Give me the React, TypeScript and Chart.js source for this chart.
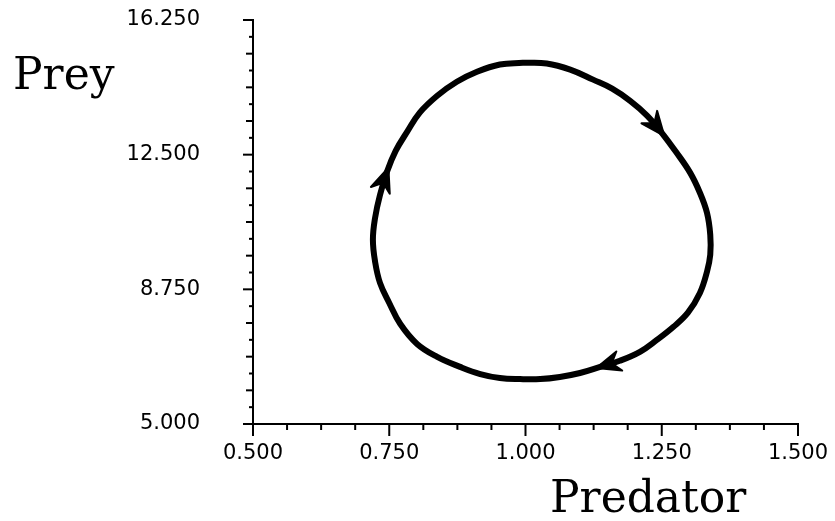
import React, { useEffect, useRef } from "react";
import { Chart, registerables } from "chart.js";

Chart.register(...registerables);

// ---- data, traced clockwise from the top ----
const predator = [
  0.995, 1.039, 1.082, 1.124, 1.159, 1.192, 1.223, 1.25, 1.276, 1.302, 1.32, 1.333, 1.339, 1.339, 1.333,
  1.32, 1.298, 1.271, 1.241, 1.21, 1.173, 1.137, 1.1, 1.063, 1.027, 0.99, 0.953, 0.917, 0.88, 0.838,
  0.801, 0.77, 0.75, 0.733, 0.724, 0.72, 0.724, 0.733, 0.746, 0.762, 0.783, 0.806, 0.838, 0.874, 0.911,
  0.953,
];
const prey = [
  15.06, 15.04, 14.87, 14.59, 14.34, 14.0, 13.59, 13.11, 12.58, 12.0, 11.44, 10.88, 10.27, 9.71, 9.24,
  8.65, 8.1, 7.7, 7.34, 7.01, 6.76, 6.59, 6.42, 6.31, 6.25, 6.25, 6.28, 6.39, 6.59, 6.87,
  7.23, 7.79, 8.37, 8.93, 9.52, 10.13, 10.74, 11.38, 12.03, 12.61, 13.14, 13.67, 14.14, 14.53, 14.81,
  15.01,
];
const arrowIdx = [7, 38, 21]; // points where arrowheads show direction of travel
const xTicks = [0.5, 0.75, 1.0, 1.25, 1.5];
const yTicks = [5, 8.75, 12.5, 16.25];
const xMinorStep = 0.0625;
const yMinorStep = 0.46875;
const xTitle = "Predator";
const yTitle = "Prey";

const TICK_FONT = { family: "'DejaVu Sans', sans-serif", size: 21 };
const TITLE_FONT = "44px 'DejaVu Serif', serif";

const decor = {
  id: "decor",
  afterDatasetsDraw(chart: any) {
    const { ctx, scales } = chart;
    const xs = scales.x;
    const ys = scales.y;
    const n = predator.length;
    ctx.save();
    ctx.fillStyle = "#000";
    ctx.strokeStyle = "#000";
    ctx.lineWidth = 2;
    ctx.lineJoin = "round";
    for (const i of arrowIdx) {
      const a = (i - 1 + n) % n;
      const b = (i + 1) % n;
      const px = xs.getPixelForValue(predator[i]);
      const py = ys.getPixelForValue(prey[i]);
      let dx = xs.getPixelForValue(predator[b]) - xs.getPixelForValue(predator[a]);
      let dy = ys.getPixelForValue(prey[b]) - ys.getPixelForValue(prey[a]);
      const len = Math.hypot(dx, dy) || 1;
      dx /= len;
      dy /= len;
      const nx = -dy;
      const ny = dx;
      const tx = px + dx * 4;
      const ty = py + dy * 4;
      ctx.beginPath();
      ctx.moveTo(tx, ty);
      ctx.lineTo(tx - dx * 24 + nx * 10, ty - dy * 24 + ny * 10);
      ctx.lineTo(tx - dx * 16, ty - dy * 16);
      ctx.lineTo(tx - dx * 24 - nx * 10, ty - dy * 24 - ny * 10);
      ctx.closePath();
      ctx.fill();
      ctx.stroke();
    }
    ctx.restore();
  },
  afterDraw(chart: any) {
    const { ctx, scales, chartArea } = chart;
    const xs = scales.x;
    const ys = scales.y;
    ctx.save();
    ctx.strokeStyle = "#000";
    ctx.lineWidth = 2;
    // x tick marks
    const xCount = Math.round((xs.max - xs.min) / xMinorStep);
    for (let k = 0; k <= xCount; k++) {
      const v = xs.min + k * xMinorStep;
      const p = xs.getPixelForValue(v);
      const len = k % 4 === 0 ? 12 : 6;
      ctx.beginPath();
      ctx.moveTo(p, chartArea.bottom);
      ctx.lineTo(p, chartArea.bottom + len);
      ctx.stroke();
    }
    // y tick marks
    const yCount = Math.round((ys.max - ys.min) / yMinorStep);
    for (let k = 0; k <= yCount; k++) {
      const v = ys.min + k * yMinorStep;
      const p = ys.getPixelForValue(v);
      const len = k % 8 === 0 ? 10 : k % 2 === 0 ? 7 : 4;
      ctx.beginPath();
      ctx.moveTo(chartArea.left, p);
      ctx.lineTo(chartArea.left - len, p);
      ctx.stroke();
    }
    // axis titles
    ctx.fillStyle = "#000";
    ctx.font = TITLE_FONT;
    ctx.textAlign = "left";
    ctx.textBaseline = "alphabetic";
    ctx.fillText(yTitle, 13, 89);
    ctx.fillText(xTitle, 550, 512);
    ctx.restore();
  },
};

export default function App() {
  const ref = useRef<HTMLCanvasElement | null>(null);
  useEffect(() => {
    if (!ref.current) return;
    const pts = predator.map((x, i) => ({ x, y: prey[i] }));
    pts.push({ x: predator[0], y: prey[0] });
    const chart = new Chart(ref.current, {
      type: "scatter",
      data: {
        datasets: [
          {
            data: pts,
            showLine: true,
            borderColor: "#000",
            backgroundColor: "#000",
            borderWidth: 6,
            pointRadius: 0,
            tension: 0.4,
            fill: false,
            borderCapStyle: "round",
            borderJoinStyle: "round",
          } as any,
        ],
      },
      options: {
        animation: false,
        responsive: true,
        maintainAspectRatio: false,
        layout: { padding: { left: 10, top: 20, right: 37, bottom: 57 } },
        plugins: { legend: { display: false }, tooltip: { enabled: false }, title: { display: false } },
        scales: {
          x: {
            type: "linear",
            position: "bottom",
            min: 0.5,
            max: 1.5,
            afterBuildTicks: (s: any) => {
              s.ticks = xTicks.map((v) => ({ value: v }));
            },
            afterFit: (s: any) => {
              s.height = 40;
              s.paddingLeft = 0;
              s.paddingRight = 0;
            },
            ticks: {
              color: "#000",
              font: TICK_FONT,
              padding: 17,
              maxRotation: 0,
              autoSkip: false,
              callback: (v: any) => Number(v).toFixed(3),
            },
            grid: { display: false, drawTicks: false },
            border: { display: true, color: "#000", width: 2 },
          },
          y: {
            type: "linear",
            position: "left",
            min: 5,
            max: 16.25,
            afterBuildTicks: (s: any) => {
              s.ticks = yTicks.map((v) => ({ value: v }));
            },
            afterFit: (s: any) => {
              s.width = 243;
              s.paddingTop = 0;
              s.paddingBottom = 0;
            },
            ticks: {
              color: "#000",
              font: TICK_FONT,
              padding: 53,
              autoSkip: false,
              callback: (v: any) => Number(v).toFixed(3),
            },
            grid: { display: false, drawTicks: false },
            border: { display: true, color: "#000", width: 2 },
          },
        },
      },
      plugins: [decor],
    });
    return () => chart.destroy();
  }, []);
  return (
    <div style={{ position: "absolute", left: 0, top: 0, width: 835, height: 521, background: "#fff" }}>
      <canvas ref={ref} style={{ display: "block" }} />
    </div>
  );
}
